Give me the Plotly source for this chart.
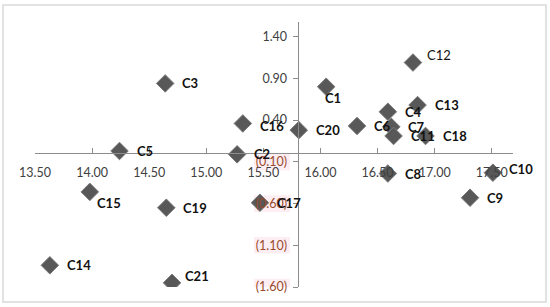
import plotly.graph_objects as go

# ---- data ----
labels = ["C1","C2","C3","C4","C5","C6","C7","C8","C9","C10","C11",
          "C12","C13","C14","C15","C16","C17","C18","C19","C20","C21"]
x_vals = [16.05,15.27,14.64,16.59,14.24,16.32,16.62,16.59,17.31,17.51,16.64,
          16.81,16.85,13.63,13.98,15.32,15.47,16.92,14.65,15.81,14.70]
y_vals = [0.80,-0.01,0.84,0.50,0.03,0.33,0.32,-0.24,-0.53,-0.23,0.21,
          1.09,0.58,-1.34,-0.46,0.36,-0.59,0.21,-0.65,0.28,-1.55]
y_tick_vals = [1.4, 0.9, 0.4, -0.1, -0.6, -1.1, -1.6]
y_tick_text = ["1.40", "0.90", "0.40", "(0.10)", "(0.60)", "(1.10)", "(1.60)"]
x_tick_vals = [13.5, 14.0, 14.5, 15.0, 15.5, 16.0, 16.5, 17.0, 17.5]
x_tick_text = ["13.50", "14.00", "14.50", "15.00", "15.50", "16.00", "16.50", "17.00", "17.50"]

# ---- style: label offsets (px) ----
label_offsets = {
    "C1": (-3, 11), "C12": (12, -8), "C10": (14, -4), "C15": (5, 11),
    "C21": (11, -7), "C16": (15, 3),
}
regular_labels = {"C12"}

X_MIN, X_MAX = 13.5, 17.686
Y_MIN, Y_MAX = -1.6, 1.576
Y_CROSS_X = 15.80

W, H = 550, 307
ML, MR, MT, MB = 35, 37, 22, 20
PW = W - ML - MR
PH = H - MT - MB

fig = go.Figure()
fig.add_trace(go.Scatter(
    x=x_vals, y=y_vals, mode="markers",
    marker=dict(symbol="diamond", size=13.5, color="#585858",
                line=dict(color="#7a7a7a", width=1)),
    hoverinfo="text", text=labels, showlegend=False,
))

annotations = []
for lab, xv, yv in zip(labels, x_vals, y_vals):
    dx, dy = label_offsets.get(lab, (15, 0))
    annotations.append(dict(
        x=xv, y=yv, xref="x", yref="y", text=lab if lab in regular_labels else f"<b>{lab}</b>",
        showarrow=False, xanchor="left", yanchor="middle",
        xshift=dx, yshift=-dy,
        font=dict(family="Lato, 'Open Sans', sans-serif", size=13, color="#111111"),
    ))

neg_color = "#9b4a2c"
ticktext_html = []
for v, t in zip(y_tick_vals, y_tick_text):
    if v < 0:
        ticktext_html.append(f"<span style='color:{neg_color}'>{t}</span>")
    else:
        ticktext_html.append(t)

shapes = []
# pink highlight behind negative y tick labels
for v in y_tick_vals:
    if v < 0:
        shapes.append(dict(type="rect", xref="paper", yref="y",
                           x0=(254 - ML) / PW, x1=(290 - ML) / PW,
                           y0=v - 0.1, y1=v + 0.1,
                           fillcolor="#fdeef3", line=dict(width=0), layer="below"))
# outer chart border
shapes.append(dict(type="rect", xref="paper", yref="paper",
                   x0=(3 - ML) / PW, x1=(546 - ML) / PW,
                   y0=(H - MB - 302) / PH, y1=(H - MB - 5) / PH,
                   line=dict(color="#d9d9d9", width=1.5), fillcolor="rgba(0,0,0,0)",
                   layer="below"))

fig.update_layout(
    width=W, height=H,
    margin=dict(l=ML, r=MR, t=MT, b=MB, autoexpand=False),
    paper_bgcolor="white", plot_bgcolor="white",
    showlegend=False,
    annotations=annotations,
    shapes=shapes,
    xaxis=dict(
        range=[X_MIN, X_MAX], tickvals=x_tick_vals, ticktext=x_tick_text,
        showgrid=False, zeroline=False, automargin=False,
        showline=True, linecolor="#8c8c8c", linewidth=1,
        ticks="inside", ticklen=5, tickcolor="#8c8c8c",
        anchor="free", position=(0 - Y_MIN) / (Y_MAX - Y_MIN),
        ticklabelstandoff=8,
        tickfont=dict(family="Lato, 'Open Sans', sans-serif", size=12.5, color="#404040"),
    ),
    yaxis=dict(
        range=[Y_MIN, Y_MAX], tickvals=y_tick_vals, ticktext=ticktext_html,
        showgrid=False, zeroline=False, automargin=False,
        showline=True, linecolor="#8c8c8c", linewidth=1,
        ticks="outside", ticklen=5, tickcolor="#8c8c8c",
        anchor="free", position=(Y_CROSS_X - X_MIN) / (X_MAX - X_MIN),
        ticklabelstandoff=3,
        tickfont=dict(family="Lato, 'Open Sans', sans-serif", size=12.5, color="#404040"),
    ),
)

fig.write_html("out.html", config={"displayModeBar": False},
               post_script="document.body.style.margin='0';")
